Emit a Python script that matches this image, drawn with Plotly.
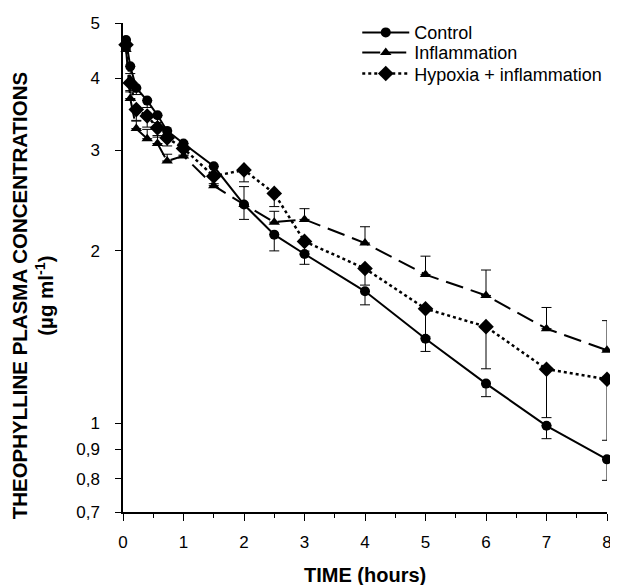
import math
import plotly.graph_objects as go

# sampling times (hours)
times = [0.05, 0.12, 0.22, 0.4, 0.57, 0.73, 1, 1.5, 2, 2.5, 3, 4, 5, 6, 7, 8]

# theophylline plasma concentrations (ug/ml) and SEM
control = [4.67, 4.20, 3.85, 3.66, 3.45, 3.24, 3.08, 2.81, 2.41, 2.135, 1.975, 1.70, 1.405, 1.173, 0.99, 0.865]
control_err = [0.15, 0.12, 0.1, 0.1, 0.1, 0.1, 0.08, 0.08, 0.14, 0.135, 0.08, 0.09, 0.07, 0.06, 0.05, 0.07]

inflammation = [4.50, 3.69, 3.27, 3.14, 3.08, 2.87, 2.93, 2.60, 2.41, 2.245, 2.27, 2.064, 1.818, 1.672, 1.463, 1.341]
inflammation_err = [0.1, 0.1, 0.1, 0.12, 0.1, 0.08, 0.08, 0.08, 0.18, 0.1, 0.1, 0.14, 0.14, 0.18, 0.13, 0.17]

hypoxia = [4.58, 3.93, 3.53, 3.44, 3.28, 3.15, 3.02, 2.70, 2.77, 2.52, 2.078, 1.863, 1.585, 1.475, 1.243, 1.194]
hypoxia_err = [0.12, 0.12, 0.15, 0.15, 0.12, 0.1, 0.08, 0.08, 0.13, 0.13, 0.08, 0.12, 0.17, 0.23, 0.22, 0.26]

y_ticks = [0.7, 0.8, 0.9, 1, 2, 3, 4, 5]
y_ticklabels = ['0,7', '0,8', '0,9', '1', '2', '3', '4', '5']

zeros = [0] * len(times)

fig = go.Figure()

# Control: solid line, circles, lower error bars
fig.add_trace(go.Scatter(x=times, y=control, name='Control', mode='lines+markers', legend='legend',
                         line=dict(color='black', width=2, dash='solid'),
                         marker=dict(symbol='circle', size=10, color='black'),
                         error_y=dict(type='data', symmetric=False, array=zeros,
                                      arrayminus=control_err, color='black', thickness=1, width=5),
                         cliponaxis=False))

# Inflammation: dashed line, triangles, upper error bars
fig.add_trace(go.Scatter(x=times, y=inflammation, name='Inflammation', mode='lines+markers', legend='legend2',
                         line=dict(color='black', width=2, dash='18px,8px'),
                         marker=dict(symbol='triangle-up', size=10, color='black'),
                         error_y=dict(type='data', symmetric=False, array=inflammation_err,
                                      arrayminus=zeros, color='black', thickness=1, width=5),
                         cliponaxis=False))

# Hypoxia + inflammation: dotted line, diamonds, lower error bars
fig.add_trace(go.Scatter(x=times, y=hypoxia, name='Hypoxia + inflammation', mode='lines+markers', legend='legend3',
                         line=dict(color='black', width=2.5, dash='dot'),
                         marker=dict(symbol='diamond', size=12, color='black'),
                         error_y=dict(type='data', symmetric=False, array=zeros,
                                      arrayminus=hypoxia_err, color='black', thickness=1, width=5),
                         cliponaxis=False))

# one legend per series so the rows can sit as tightly as in the original
leg = dict(x=0.484, xanchor='left', yanchor='top', bgcolor='rgba(0,0,0,0)',
           font=dict(size=18), itemwidth=47)

fig.update_layout(
    width=610, height=577,
    margin=dict(l=115, r=6, t=13, b=73),
    paper_bgcolor='white', plot_bgcolor='white',
    font=dict(family='Liberation Sans, Arial', size=17, color='black'),
    showlegend=True,
    legend=dict(leg, y=1.018),
    legend2=dict(leg, y=0.977),
    legend3=dict(leg, y=0.934),
    xaxis=dict(range=[0, 8], tickmode='array', tickvals=list(range(9)),
               showline=True, linecolor='black', linewidth=1.5, mirror=False,
               ticks='outside', ticklen=7, tickwidth=1.2, tickcolor='black',
               ticklabelstandoff=7,
               minor=dict(dtick=0.5, ticks='outside', ticklen=4, tickcolor='black', tickwidth=1),
               showgrid=False, zeroline=False),
    yaxis=dict(type='log', range=[math.log10(0.7), math.log10(5)],
               tickmode='array', tickvals=y_ticks, ticktext=y_ticklabels,
               showline=True, linecolor='black', linewidth=1.5,
               ticks='outside', ticklen=6, tickwidth=1.2, tickcolor='black',
               ticklabelstandoff=12,
               showgrid=False, zeroline=False),
)

# axis titles
fig.add_annotation(text='<b>TIME (hours)</b>', xref='paper', yref='paper', x=0.5, y=-0.128,
                   xanchor='center', yanchor='middle', showarrow=False, font=dict(size=20))
fig.add_annotation(text='<b>THEOPHYLLINE PLASMA CONCENTRATIONS<br>(µg ml<sup>-1</sup>)</b>',
                   xref='paper', yref='paper', x=-0.186, y=0.443, textangle=-90,
                   xanchor='center', yanchor='middle', showarrow=False, font=dict(size=20.5))

fig.write_html("out.html")
